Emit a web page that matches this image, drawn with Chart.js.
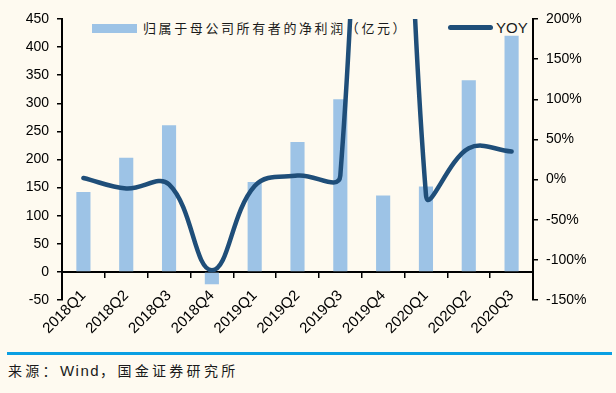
<!DOCTYPE html>
<html><head><meta charset="utf-8">
<script src="https://cdn.jsdelivr.net/npm/chart.js@4/dist/chart.umd.min.js"></script>
<style>
html,body{margin:0;padding:0;background:#FEFAF0;}
#wrap{position:relative;width:616px;height:393px;overflow:hidden;background:#FEFAF0;}
#c{position:absolute;left:0;top:0;z-index:1;}
.lg{position:absolute;z-index:0;white-space:nowrap;color:#1a1a1a;}
#sw1{left:92px;top:24px;width:45px;height:9px;background:#9DC3E6;}
#t1{left:143px;top:18px;font:13px "Noto Sans CJK SC";letter-spacing:2.6px;line-height:20px;}
#sw2{left:448px;top:25px;width:45px;height:5px;border-radius:3px;background:#1F4E79;}
#t2{left:496px;top:18px;font:15px "Liberation Sans";line-height:20px;}
#rule{position:absolute;left:7px;top:352px;width:605px;height:3px;background:#0A9FE3;}
#src{position:absolute;left:8px;top:360px;font:14px "Noto Sans CJK SC";letter-spacing:3.3px;color:#1a1a1a;white-space:nowrap;}
#src span{font-family:"Liberation Sans";font-size:15px;letter-spacing:1.5px;}
</style></head>
<body>
<div id="wrap">
  <div class="lg" id="sw1"></div><div class="lg" id="t1"></div>
  <div class="lg" id="sw2"></div><div class="lg" id="t2"></div>
  <canvas id="c" width="616" height="350"></canvas>
  <div id="rule"></div>
  <div id="src">来源：<span>Wind</span>，国金证券研究所</div>
</div>
<script>
const categories = ['2018Q1','2018Q2','2018Q3','2018Q4','2019Q1','2019Q2','2019Q3','2019Q4','2020Q1','2020Q2','2020Q3'];
const profitName = '归属于母公司所有者的净利润（亿元）';
const yoyName = 'YOY';
const profitValues = [142, 203, 261, -22, 160, 231, 307, 136, 152, 341, 420];
const yoyValues = [2, -11, -6, -113, -8, 5, 5, 1400, -19, 39, 35];

document.getElementById('t1').textContent = profitName;
document.getElementById('t2').textContent = yoyName;

const tickFont = {family:'Liberation Sans', size:14};
new Chart(document.getElementById('c'), {
  data: {
    labels: categories,
    datasets: [
      {type:'line', label:yoyName, data:yoyValues, yAxisID:'y1', borderColor:'#1F4E79', borderWidth:4.5,
       pointRadius:0, tension:0.4, order:0, borderCapStyle:'round', borderJoinStyle:'round'},
      {type:'bar', label:profitName, data:profitValues, yAxisID:'y', backgroundColor:'#9DC3E6',
       barPercentage:0.33, categoryPercentage:1, order:1}
    ]
  },
  options: {
    responsive:false, animation:false, devicePixelRatio:1,
    layout:{padding:{top:19, bottom:50, left:0, right:0}},
    plugins:{legend:{display:false}, tooltip:{enabled:false}},
    elements:{line:{capBezierPoints:false}},
    scales:{
      x:{position:{y:0}, offset:true, z:1,
         grid:{display:true, drawOnChartArea:false, drawTicks:true, tickLength:5, color:'#000', lineWidth:1.5, offset:true},
         border:{display:true, color:'#000', width:2},
         ticks:{minRotation:45, maxRotation:45, autoSkip:false, font:{family:'Liberation Sans', size:15}, color:'#000', padding:10},
         afterFit(s){ s.height = 0; }},
      y:{position:'left', min:-50, max:450,
         ticks:{stepSize:50, font:tickFont, color:'#000', padding:8},
         grid:{drawOnChartArea:false, drawTicks:true, tickLength:5, color:'#000', lineWidth:1.5},
         border:{display:true, color:'#000', width:2},
         afterFit(s){ s.width = 62; }},
      y1:{position:'right', min:-150, max:200,
         ticks:{stepSize:50, font:tickFont, color:'#000', padding:8, callback:v => v + '%'},
         grid:{drawOnChartArea:false, drawTicks:true, tickLength:5, color:'#000', lineWidth:1.5},
         border:{display:true, color:'#000', width:2},
         afterFit(s){ s.width = 83; }}
    }
  }
});
</script>
</body></html>
